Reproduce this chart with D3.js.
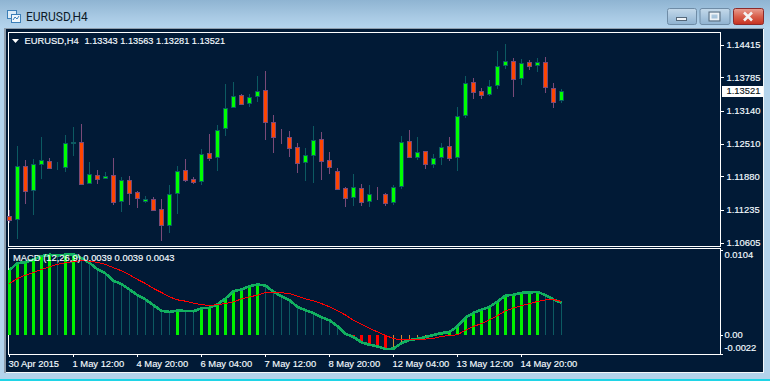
<!DOCTYPE html>
<html>
<head>
<meta charset="utf-8">
<title>EURUSD,H4</title>
<script src="https://cdn.jsdelivr.net/npm/d3@7"></script>
<style>
  html, body { margin: 0; padding: 0; background: #b3d3ec; overflow: hidden; }
  svg { display: block; }
  text { font-family: "Liberation Sans", Arial, sans-serif; font-size: 9.4px; fill: #f4fbff; stroke: #f4fbff; stroke-width: 0.15px; }
  .title { font-family: Roboto, "Open Sans", sans-serif; font-size: 12px; fill: #0c1a28; stroke: none; }
</style>
</head>
<body>
<svg id="chart" width="770" height="381"></svg>
<script>
const opens = [1.11115,1.11051,1.12071,1.11609,1.12110,1.12167,1.12050,1.12052,1.12525,1.12533,
  1.11744,1.11898,1.11840,1.11898,1.11398,1.11802,1.11571,1.11403,1.11436,1.11244,
  1.10947,1.11551,1.11994,1.11821,1.11782,1.12321,1.12244,1.12802,1.13206,1.13437,
  1.13283,1.13418,1.13533,1.12918,1.12650,1.12629,1.12437,1.12148,1.12294,1.12591,
  1.12187,1.11975,1.11648,1.11475,1.11648,1.11398,1.11540,1.11532,1.11378,1.11686,
  1.12552,1.12256,1.12360,1.12110,1.12244,1.12456,1.12244,1.13052,1.13687,1.13514,
  1.13456,1.13630,1.14014,1.14091,1.13764,1.14072,1.14014,1.14084,1.13572,1.13343];
const highs = [1.11230,1.12462,1.12187,1.12212,1.12641,1.12231,1.12154,1.12679,1.12827,1.12885,
  1.12154,1.11994,1.11956,1.12231,1.11859,1.11884,1.11590,1.11500,1.11475,1.11442,
  1.11717,1.12077,1.12212,1.11865,1.12410,1.12693,1.12866,1.13660,1.13693,1.13456,
  1.13462,1.13809,1.13905,1.13058,1.12789,1.12750,1.12514,1.12423,1.12852,1.12731,
  1.12346,1.12038,1.11673,1.11929,1.11730,1.11711,1.11673,1.11557,1.11711,1.12654,
  1.12770,1.12635,1.12365,1.12308,1.12519,1.12635,1.13212,1.13809,1.13770,1.13578,
  1.13732,1.14290,1.14424,1.14155,1.14136,1.14116,1.14155,1.14174,1.13674,1.13563];
const lows = [1.10986,1.10666,1.11346,1.11128,1.11827,1.12019,1.12000,1.11961,1.12269,1.11711,
  1.11736,1.11736,1.11821,1.11326,1.11192,1.11326,1.11269,1.11359,1.11217,1.10634,
  1.10782,1.11153,1.11769,1.11730,1.11711,1.12179,1.11981,1.12654,1.13199,1.13251,
  1.13212,1.13308,1.12577,1.12333,1.12500,1.12250,1.11942,1.11788,1.11744,1.11807,
  1.11923,1.11615,1.11288,1.11313,1.11307,1.11288,1.11423,1.11307,1.11326,1.11634,
  1.12231,1.12192,1.12019,1.12038,1.12096,1.12173,1.11981,1.13000,1.13366,1.13366,
  1.13424,1.13559,1.13943,1.13405,1.13635,1.13924,1.13886,1.13481,1.13193,1.13281];
const closes = [1.11038,1.12071,1.11602,1.12121,1.12198,1.12044,1.12054,1.12525,1.12533,1.11736,
  1.11929,1.11832,1.11890,1.11390,1.11802,1.11563,1.11455,1.11442,1.11236,1.10947,
  1.11544,1.11975,1.11813,1.11775,1.12313,1.12236,1.12775,1.13199,1.13430,1.13276,
  1.13410,1.13526,1.12929,1.12641,1.12646,1.12429,1.12140,1.12294,1.12583,1.12179,
  1.12063,1.11640,1.11467,1.11678,1.11390,1.11544,1.11536,1.11371,1.11678,1.12544,
  1.12256,1.12340,1.12110,1.12236,1.12448,1.12236,1.13045,1.13680,1.13507,1.13449,
  1.13622,1.14007,1.14103,1.13757,1.14065,1.14007,1.14084,1.13591,1.13314,1.13521];

const macd = [.00791,.00876,.00884,.00920,.00961,.00977,.00969,.00977,.00981,.00933,
  .00880,.00799,.00750,.00661,.00620,.00555,.00487,.00434,.00365,.00296,
  .00284,.00300,.00296,.00292,.00328,.00332,.00377,.00446,.00535,.00555,
  .00596,.00616,.00604,.00527,.00474,.00426,.00345,.00304,.00268,.00219,
  .00182,.00109,.00020,-.00020,-.00085,-.00114,-.00134,-.00166,-.00162,-.00093,
  -.00057,-.00041,-.00020,.00004,.00028,.00041,.00109,.00215,.00272,.00312,
  .00345,.00410,.00482,.00491,.00515,.00519,.00527,.00487,.00434,.00393];
const signal = [.00628,.00689,.00730,.00762,.00799,.00831,.00860,.00880,.00896,.00904,
  .00900,.00884,.00860,.00819,.00783,.00734,.00677,.00628,.00568,.00519,
  .00466,.00430,.00414,.00389,.00373,.00361,.00373,.00385,.00405,.00442,
  .00466,.00487,.00519,.00523,.00515,.00507,.00474,.00442,.00418,.00385,
  .00345,.00296,.00247,.00182,.00134,.00085,.00041,.00000,-.00041,-.00053,
  -.00053,-.00053,-.00045,-.00036,-.00012,-.00004,.00008,.00061,.00109,.00142,
  .00191,.00239,.00296,.00332,.00361,.00385,.00410,.00430,.00434,.00410];

const priceTicks = [1.14415, 1.13785, 1.13140, 1.12510, 1.11880, 1.11235, 1.10605];
const macdTicks = [0.0104, 0, -0.0022];
const timeTickBars = [0, 8, 16, 24, 32, 40, 48, 56, 64];
const timeTickLabels = ["30 Apr 2015", "1 May 12:00", "4 May 20:00", "6 May 04:00", "7 May 12:00",
  "8 May 20:00", "12 May 04:00", "13 May 12:00", "14 May 20:00"];

const BG = "#011a36";
const svg = d3.select("#chart");

// ── Window chrome ─────────────────────────────────────────────────────────────
const defs = svg.append("defs");
function gradient(id, stops) {
  const g = defs.append("linearGradient").attr("id", id)
    .attr("x1", 0).attr("y1", 0).attr("x2", 0).attr("y2", 1);
  stops.forEach(([o, c]) => g.append("stop").attr("offset", o).attr("stop-color", c));
}
gradient("titlebar", [[0, "#8fb4d2"], [0.6, "#a9cae4"], [1, "#b5d5ee"]]);
gradient("btn", [[0, "#c4d9ea"], [0.5, "#a9c6de"], [1, "#8fb2d0"]]);
gradient("btnClose", [[0, "#e8a093"], [0.5, "#d9604c"], [1, "#c5301f"]]);

svg.append("rect").attr("width", 770).attr("height", 381).attr("fill", "#b3d3ec");
svg.append("rect").attr("width", 770).attr("height", 29).attr("fill", "url(#titlebar)");
svg.append("rect").attr("y", 379).attr("width", 770).attr("height", 2).attr("fill", "#1fd4e6");
svg.append("rect").attr("x", 4).attr("y", 28).attr("width", 760).attr("height", 345)
  .attr("fill", "#f4f8fb");
svg.append("rect").attr("x", 4).attr("y", 28).attr("width", 760).attr("height", 1).attr("fill", "#8f9dab");
svg.append("rect").attr("x", 4).attr("y", 28).attr("width", 2).attr("height", 345).attr("fill", "#8f9dab");
svg.append("rect").attr("x", 6).attr("y", 29).attr("width", 757).attr("height", 343).attr("fill", BG);

// title icon
const icon = svg.append("g");
icon.append("rect").attr("x", 7.5).attr("y", 10.5).attr("width", 9).attr("height", 8)
  .attr("fill", "#dcecf8").attr("stroke", "#3b7fb8");
icon.append("rect").attr("x", 11.5).attr("y", 14.5).attr("width", 9).attr("height", 8)
  .attr("fill", "#f0f7fc").attr("stroke", "#3b7fb8");
icon.append("path").attr("d", "M13 20l2-3 2 2 2-3").attr("fill", "none").attr("stroke", "#3b7fb8");
svg.append("text").attr("class", "title").attr("x", 26).attr("y", 21).text("EURUSD,H4");

// window buttons
const buttons = [
  { x: 667, w: 29, fill: "url(#btn)", stroke: "#6f8ca6" },
  { x: 699.5, w: 30, fill: "url(#btn)", stroke: "#6f8ca6" },
  { x: 733, w: 30, fill: "url(#btnClose)", stroke: "#8c2a2a" },
];
buttons.forEach((b) => {
  svg.append("rect").attr("x", b.x + 0.5).attr("y", 8.5).attr("width", b.w).attr("height", 16)
    .attr("rx", 2).attr("fill", b.fill).attr("stroke", b.stroke);
});
svg.append("rect").attr("x", 676.5).attr("y", 17.5).attr("width", 10).attr("height", 3)
  .attr("fill", "#eef3f7").attr("stroke", "#55687a");
svg.append("rect").attr("x", 710.5).attr("y", 13.5).attr("width", 8).attr("height", 6)
  .attr("fill", "none").attr("stroke", "#eef3f7").attr("stroke-width", 2);
svg.append("rect").attr("x", 709).attr("y", 12).attr("width", 11).attr("height", 9)
  .attr("fill", "none").attr("stroke", "#55687a");
svg.append("path").attr("d", "M744 12.5l8 8m0-8l-8 8").attr("stroke", "#f4f4f4")
  .attr("stroke-width", 2.6).attr("fill", "none");

// ── Panel frames ──────────────────────────────────────────────────────────────
const frameLeft = 8.5, frameRight = 720.5;
[[32.5, 246.5], [248.5, 354.5]].forEach(([top, bottom]) => {
  svg.append("rect").attr("x", frameLeft).attr("y", top)
    .attr("width", frameRight - frameLeft).attr("height", bottom - top)
    .attr("fill", BG).attr("stroke", "#ffffff");
});

// ── Scales ────────────────────────────────────────────────────────────────────
const x = d3.scaleLinear().domain([0, 69]).range([9, 561]);
const yPrice = d3.scaleLinear().domain([1.10605, 1.14415]).range([242.5, 44.5]);
const yMacd = d3.scaleLinear().domain([-0.0022, 0.0104]).range([353.5, 249.5]);

// ── Candles ───────────────────────────────────────────────────────────────────
const candles = closes.map((c, i) => ({ i, o: opens[i], h: highs[i], l: lows[i], c, up: c >= opens[i] }));
const candleG = svg.append("g").attr("shape-rendering", "crispEdges");

candleG.selectAll(".wick")
  .data(candles)
  .join("line")
  .attr("class", "wick")
  .attr("x1", (d) => x(d.i) + 0.5).attr("x2", (d) => x(d.i) + 0.5)
  .attr("y1", (d) => yPrice(d.h)).attr("y2", (d) => yPrice(d.l))
  .attr("stroke", (d) => d.up ? "#0c5a62" : "#7a4a78");

candleG.selectAll(".body")
  .data(candles)
  .join("rect")
  .attr("class", "body")
  .attr("x", (d) => x(d.i) - 1.5)
  .attr("width", 4)
  .attr("y", (d) => Math.round(yPrice(Math.max(d.o, d.c))) + 0.5)
  .attr("height", (d) => Math.max(0, Math.round(yPrice(Math.min(d.o, d.c))) - Math.round(yPrice(Math.max(d.o, d.c)))))
  .attr("fill", (d) => d.up ? "#00ff00" : "#ff4500")
  .attr("stroke", (d) => d.up ? "#0c5a62" : "#7a4a78");

// ── MACD panel ────────────────────────────────────────────────────────────────
const bars = macd.map((v, i) => {
  const rising = i === 0 || v > macd[i - 1];
  let color;
  if (v >= 0) color = rising ? "#00f000" : "#0c5a62";
  else color = rising ? "#d08a30" : "#ff0000";
  return { i, v, rising, color };
});

svg.append("g").attr("shape-rendering", "crispEdges")
  .selectAll("rect")
  .data(bars)
  .join("rect")
  .attr("x", (d) => d.rising && d.v >= 0 || !d.rising && d.v < 0 ? x(d.i) - 1 : x(d.i))
  .attr("width", (d) => d.rising && d.v >= 0 || !d.rising && d.v < 0 ? 3 : 1)
  .attr("y", (d) => Math.min(yMacd(d.v), yMacd(0)))
  .attr("height", (d) => Math.abs(yMacd(d.v) - yMacd(0)))
  .attr("fill", (d) => d.color);

const macdLine = d3.line().x((d, i) => x(i) + 0.5).y((d) => yMacd(d));
svg.append("path").datum(macd).attr("d", macdLine)
  .attr("fill", "none").attr("stroke", "#12b060").attr("stroke-width", 2.6)
  .attr("shape-rendering", "crispEdges");
svg.append("path").datum(signal).attr("d", macdLine)
  .attr("fill", "none").attr("stroke", "#ff0000").attr("stroke-width", 1)
  .attr("shape-rendering", "crispEdges");

// ── Axes ──────────────────────────────────────────────────────────────────────
const priceAxis = svg.append("g")
  .attr("transform", "translate(720.5,0)")
  .call(d3.axisRight(yPrice).tickValues(priceTicks).tickFormat(d3.format(".5f")).tickSize(3).tickPadding(3));
priceAxis.select(".domain").remove();
priceAxis.selectAll("line").attr("stroke", "#ffffff").attr("shape-rendering", "crispEdges");
priceAxis.attr("font-size", null).attr("font-family", null);

const macdFormat = (d) => d === 0 ? "0.00" : d3.format(".4f")(d).replace("−", "-");
const macdAxis = svg.append("g")
  .attr("transform", "translate(720.5,0)")
  .call(d3.axisRight(yMacd).tickValues(macdTicks).tickFormat(macdFormat).tickSize(2).tickPadding(2));
macdAxis.select(".domain").remove();
macdAxis.selectAll("line").attr("stroke", "#ffffff").attr("shape-rendering", "crispEdges");
macdAxis.attr("font-size", null).attr("font-family", null);
// labels at the panel edges are nudged inwards
macdAxis.selectAll("text").attr("transform", (d) => {
  if (d === 0.0104) return "translate(0,5)";
  if (d === 0) return "translate(0,-1)";
  if (d === -0.0022) return "translate(0,-6.5)";
  return null;
});

// x axis
const timeAxis = svg.append("g")
  .attr("transform", "translate(0,354.5)")
  .call(d3.axisBottom(x).tickValues(timeTickBars)
    .tickFormat((d, i) => timeTickLabels[i]).tickSize(2).tickPadding(2));
timeAxis.select(".domain").remove();
timeAxis.attr("font-size", null).attr("font-family", null);
timeAxis.selectAll("line").attr("stroke", "#ffffff").attr("shape-rendering", "crispEdges");
timeAxis.selectAll("text").attr("text-anchor", "start").attr("x", -1).attr("dy", "0.95em");

// current price marker
const lastClose = closes[closes.length - 1];
svg.append("rect").attr("x", 722).attr("y", Math.round(yPrice(lastClose)) - 5)
  .attr("width", 41).attr("height", 11).attr("fill", "#ffffff");
svg.append("text").attr("x", 726.5).attr("y", yPrice(lastClose) + 3.5)
  .style("fill", "#101820").style("stroke", "#101820").text(d3.format(".5f")(lastClose));

// ── Header labels ─────────────────────────────────────────────────────────────
svg.append("path").attr("d", "M12 39h7l-3.5 4z").attr("fill", "#ffffff");
svg.append("text").attr("x", 24.5).attr("y", 44).text("EURUSD,H4");
svg.append("text").attr("x", 84.5).attr("y", 44).style("font-size", "9.2px")
  .text([opens, highs, lows, closes].map((a) => a[a.length - 1].toFixed(5)).join(" "));
svg.append("text").attr("x", 13).attr("y", 261).text("MACD (12,26,9) 0.0039 0.0039 0.0043");
</script>
</body>
</html>
